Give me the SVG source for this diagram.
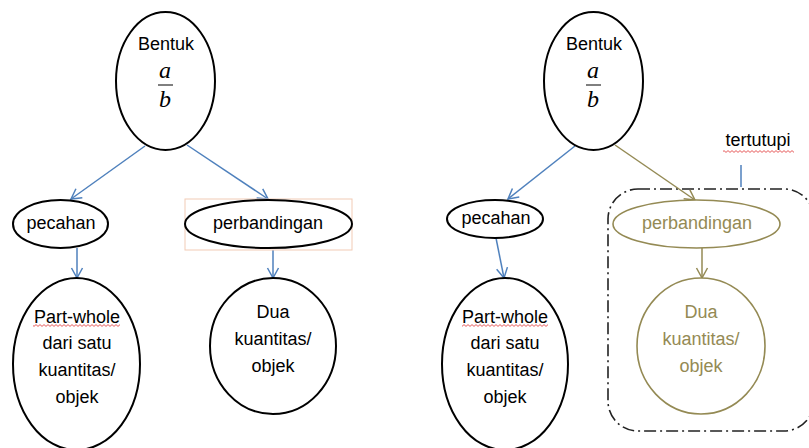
<svg xmlns="http://www.w3.org/2000/svg" width="809" height="448" viewBox="0 0 809 448">
<style>
.t{font-family:"Liberation Sans",Arial,sans-serif;font-size:18px;fill:#000;text-anchor:middle}
.ol{fill:#948a54}
.fr{font-family:"Liberation Serif","Times New Roman",serif;font-style:italic;font-size:24px;fill:#000;text-anchor:middle}
.nb{fill:#fff;stroke:#000;stroke-width:2}
.no{fill:#fff;stroke:#948a54;stroke-width:1.6}
.cb{fill:none;stroke:#4f81bd;stroke-width:1.5;marker-end:url(#ab)}
.co{fill:none;stroke:#948a54;stroke-width:1.5;marker-end:url(#ao)}
.fl{stroke:#000;stroke-width:1}
</style>
<defs>
<marker id="ab" markerUnits="userSpaceOnUse" markerWidth="14" markerHeight="14" viewBox="-12 -7 14 14" refX="0" refY="0" orient="auto"><path d="M-10,-5.5 L0,0 L-10,5.5" fill="none" stroke="#4f81bd" stroke-width="1.5"/></marker>
<marker id="ao" markerUnits="userSpaceOnUse" markerWidth="14" markerHeight="14" viewBox="-12 -7 14 14" refX="0" refY="0" orient="auto"><path d="M-10,-5.5 L0,0 L-10,5.5" fill="none" stroke="#948a54" stroke-width="1.5"/></marker>
<pattern id="sq" width="4" height="3" patternUnits="userSpaceOnUse"><path d="M0,0.6 L2,2.4 L4,0.6" fill="none" stroke="#e03030" stroke-width="0.8"/></pattern>
</defs>
<rect width="809" height="448" fill="#fff"/>

<g id="frame-tertutupi">
<rect x="608" y="189" width="206" height="242" rx="30" fill="none" stroke="#222" stroke-width="1.6" stroke-dasharray="12 4 2 4"/>
<line x1="741" y1="165" x2="741" y2="187" stroke="#4f81bd" stroke-width="1.5"/>
<text class="t" x="758" y="146">tertutupi</text>
<rect x="723" y="150" width="71" height="3" fill="url(#sq)"/>
</g>

<g id="connectors">
<line class="cb" x1="145" y1="146" x2="71" y2="199"/>
<line class="cb" x1="187" y1="145" x2="268" y2="199"/>
<line class="cb" x1="77" y1="248" x2="77" y2="278"/>
<line class="cb" x1="273" y1="250" x2="273" y2="278"/>
<line class="cb" x1="575" y1="146" x2="508" y2="199"/>
<line class="co" x1="615" y1="145" x2="695" y2="200"/>
<line class="cb" x1="496" y1="238" x2="504" y2="278"/>
<line class="co" x1="702" y1="248" x2="702" y2="278"/>
</g>

<g id="bentuk-left">
<ellipse class="nb" cx="165.5" cy="81" rx="49.5" ry="69"/>
<text class="t" x="166" y="50">Bentuk</text>
<text class="fr" x="165" y="78">a</text>
<line class="fl" x1="158" y1="85" x2="173" y2="85"/>
<text class="fr" x="165" y="107">b</text>
</g>

<g id="pecahan-left">
<ellipse class="nb" cx="60.5" cy="224" rx="47.5" ry="24"/>
<text class="t" x="61" y="229">pecahan</text>
</g>

<g id="perbandingan-left">
<rect x="185" y="199" width="167" height="51" fill="none" stroke="#f2cbb5" stroke-width="1"/>
<ellipse class="nb" cx="268.5" cy="224" rx="83.5" ry="24"/>
<text class="t" x="268" y="229">perbandingan</text>
</g>

<g id="partwhole-left">
<ellipse class="nb" cx="76.5" cy="364" rx="63.5" ry="86"/>
<text class="t" x="77" y="323">Part-whole</text>
<rect x="33" y="324" width="87" height="3" fill="url(#sq)"/>
<text class="t" x="77" y="349">dari satu</text>
<text class="t" x="77" y="376">kuantitas/</text>
<text class="t" x="77" y="403">objek</text>
</g>

<g id="dua-left">
<ellipse class="nb" cx="273" cy="346" rx="63" ry="68"/>
<text class="t" x="273" y="318">Dua</text>
<text class="t" x="273" y="345">kuantitas/</text>
<text class="t" x="273" y="372">objek</text>
</g>

<g id="bentuk-right">
<ellipse class="nb" cx="593.5" cy="81" rx="49.5" ry="69"/>
<text class="t" x="594" y="50">Bentuk</text>
<text class="fr" x="593" y="78">a</text>
<line class="fl" x1="586" y1="85" x2="601" y2="85"/>
<text class="fr" x="593" y="107">b</text>
</g>

<g id="pecahan-right">
<ellipse class="nb" cx="495" cy="219" rx="48" ry="19"/>
<text class="t" x="496" y="224">pecahan</text>
</g>

<g id="perbandingan-right">
<ellipse class="no" cx="696.5" cy="224" rx="83.5" ry="24"/>
<text class="t ol" x="697" y="229">perbandingan</text>
</g>

<g id="partwhole-right">
<ellipse class="nb" cx="505" cy="364" rx="63" ry="86"/>
<text class="t" x="505" y="323">Part-whole</text>
<rect x="462" y="324" width="86" height="3" fill="url(#sq)"/>
<text class="t" x="505" y="349">dari satu</text>
<text class="t" x="505" y="376">kuantitas/</text>
<text class="t" x="505" y="403">objek</text>
</g>

<g id="dua-right">
<ellipse class="no" cx="701" cy="346" rx="64" ry="68"/>
<text class="t ol" x="701" y="318">Dua</text>
<text class="t ol" x="701" y="345">kuantitas/</text>
<text class="t ol" x="701" y="372">objek</text>
</g>
</svg>
